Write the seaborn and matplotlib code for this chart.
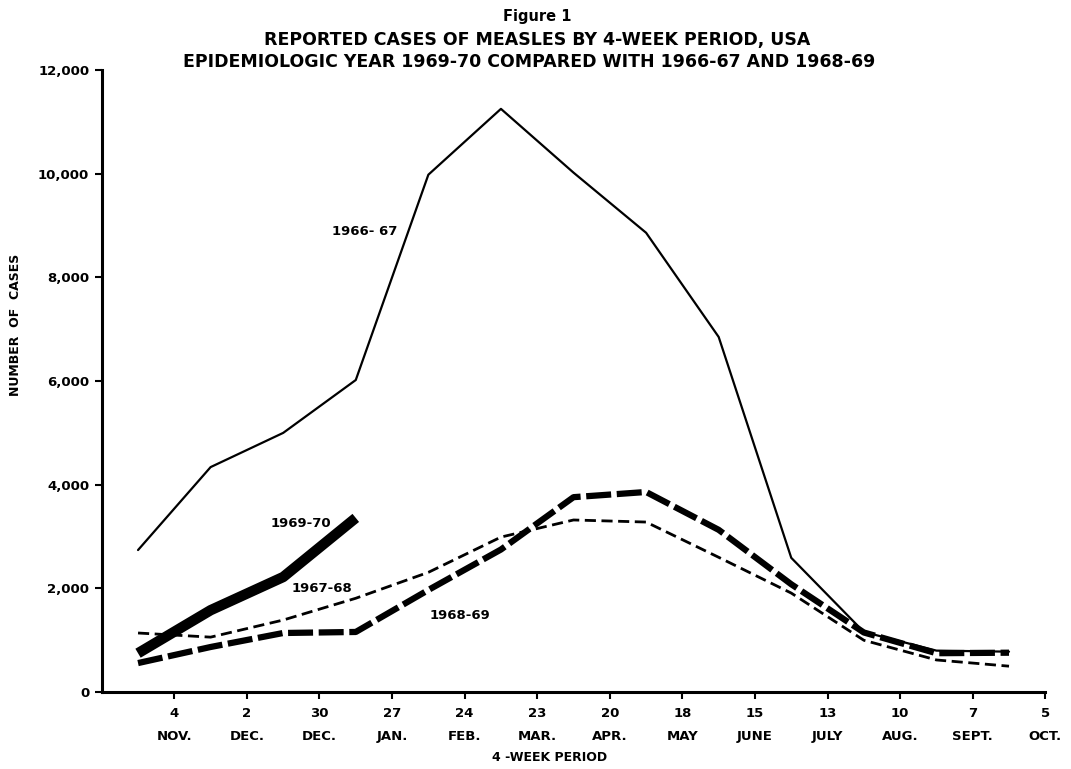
import matplotlib
matplotlib.use("Agg")
import matplotlib.pyplot as plt
import seaborn as sns
import pandas as pd
import numpy as np

# ---- data ----
period_index = list(range(13))
tick_days = ["4", "2", "30", "27", "24", "23", "20", "18", "15", "13", "10", "7", "5"]
tick_months = ["NOV.", "DEC.", "DEC.", "JAN.", "FEB.", "MAR.", "APR.", "MAY",
               "JUNE", "JULY", "AUG.", "SEPT.", "OCT."]
cases_1966_67 = [2740, 4340, 5000, 6020, 9980, 11250, 10020, 8860, 6850, 2590, 1160, 800, 780]
cases_1967_68 = [1140, 1060, 1390, 1810, 2310, 2990, 3320, 3280, 2600, 1910, 1000, 620, 500]
cases_1968_69 = [560, 870, 1140, 1160, 1970, 2750, 3760, 3860, 3130, 2080, 1150, 750, 760]
cases_1969_70 = [750, 1580, 2220, 3360]
y_ticks = [0, 2000, 4000, 6000, 8000, 10000, 12000]
y_tick_labels = ["0", "2,000", "4,000", "6,000", "8,000", "10,000", "12,000"]

sns.set_theme(style="white")
plt.rcParams['font.family'] = ['DejaVu Sans']
plt.rcParams['text.color'] = 'black'
plt.rcParams['axes.labelcolor'] = 'black'
plt.rcParams['xtick.color'] = 'black'
plt.rcParams['ytick.color'] = 'black'

fig = plt.figure(figsize=(10.71, 7.69), dpi=100)
ax = fig.add_axes([0.095, 0.100, 0.881, 0.809])

df66 = pd.DataFrame({"period": period_index, "cases": cases_1966_67})
df67 = pd.DataFrame({"period": period_index, "cases": cases_1967_68})
df68 = pd.DataFrame({"period": period_index, "cases": cases_1968_69})
df69 = pd.DataFrame({"period": period_index[:len(cases_1969_70)], "cases": cases_1969_70})

sns.lineplot(data=df67, x="period", y="cases", ax=ax, color="black", lw=2.0,
             linestyle=(0, (4, 2)))
sns.lineplot(data=df68, x="period", y="cases", ax=ax, color="black", lw=4.5,
             linestyle=(0, (4, 0.9)))
sns.lineplot(data=df66, x="period", y="cases", ax=ax, color="black", lw=1.6)
sns.lineplot(data=df69, x="period", y="cases", ax=ax, color="black", lw=7.5,
             solid_capstyle="butt")

ax.set_xlim(-0.5, 12.5)
ax.set_ylim(0, 12000)

ax.set_xticks([i + 0.5 for i in period_index])
ax.set_xticklabels([f"{d}\n\n{m}" for d, m in zip(tick_days, tick_months)],
                   fontsize=9.5, fontweight="bold", linespacing=0.85)
ax.set_yticks(y_ticks)
ax.set_yticklabels(y_tick_labels, fontsize=9.5, fontweight="bold")

for s in ["top", "right"]:
    ax.spines[s].set_visible(False)
for s in ["left", "bottom"]:
    ax.spines[s].set_color("black")
    ax.spines[s].set_linewidth(2.2)
ax.tick_params(axis="both", direction="out", length=5, width=1.5, color="black",
               bottom=True, left=True)
ax.tick_params(axis="x", pad=6)
ax.tick_params(axis="y", pad=4)

ax.set_xlabel("4 -WEEK PERIOD", fontsize=9, fontweight="bold")
ax.set_ylabel("NUMBER  OF  CASES", fontsize=9, fontweight="bold")
ax.xaxis.set_label_coords(0.475, -0.095)
ax.yaxis.set_label_coords(-0.085, 0.59)

# series labels
ax.text(3.12, 8875, "1966- 67", fontsize=9.5, fontweight="bold", ha="center", va="center")
ax.text(2.25, 3260, "1969-70", fontsize=9.5, fontweight="bold", ha="center", va="center")
ax.text(2.54, 2005, "1967-68", fontsize=9.5, fontweight="bold", ha="center", va="center")
ax.text(4.43, 1485, "1968-69", fontsize=9.5, fontweight="bold", ha="center", va="center")

# titles
fig.text(0.502, 0.978, "Figure 1", ha="center", va="center", fontsize=10.5, fontweight="bold")
fig.text(0.502, 0.948, "REPORTED CASES OF MEASLES BY 4-WEEK PERIOD, USA", ha="center",
         va="center", fontsize=12.5, fontweight="bold")
fig.text(0.494, 0.919, "EPIDEMIOLOGIC YEAR 1969-70 COMPARED WITH 1966-67 AND 1968-69",
         ha="center", va="center", fontsize=12.5, fontweight="bold")

fig.savefig("out.png", dpi=100, facecolor="white")
